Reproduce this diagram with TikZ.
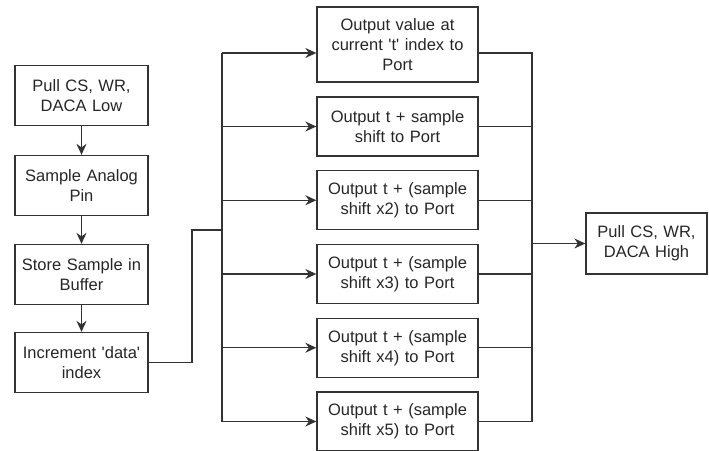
\documentclass[tikz,border=0pt]{standalone}
\usepackage{fontspec}
\setmainfont{Liberation Sans}
\usetikzlibrary{arrows.meta}
\begin{document}
\begin{tikzpicture}[x=1pt,y=-1pt,>={Stealth[length=11pt,width=10pt]},
  box/.style={draw=black!80,line width=1.3pt,align=center,inner sep=1pt,text=black!85,
    font=\fontsize{16.5}{20}\selectfont},
  lbox/.style={box,minimum height=60pt,text width=131pt},
  mbox/.style={box,minimum height=59pt,text width=159pt},
  link/.style={draw=black!80,line width=1.3pt}]
  \useasboundingbox (0,0) rectangle (709,450);
  % left column
  \node[lbox] (pull)  at (81.5,95.5)  {Pull CS, WR,\\DACA Low};
  \node[lbox] (samp)  at (81.5,185.5) {Sample Analog\\Pin};
  \node[lbox] (store) at (81.5,274.5) {Store Sample in\\Buffer};
  \node[lbox] (incr)  at (81.5,362.5) {Increment \textquotesingle data\textquotesingle\\index};
  \draw[link,->] (pull) -- (samp);
  \draw[link,->] (samp) -- (store);
  \draw[link,->] (store) -- (incr);
  % output column
  \node[mbox,minimum height=75pt] (out0) at (397.5,44.5)
    {Output value at\\current \textquotesingle t\textquotesingle{} index to\\Port};
  \node[mbox] (out1) at (397.5,126.5) {Output t + sample\\shift to Port};
  \node[mbox] (out2) at (397.5,200.25) {Output t + (sample\\shift x2) to Port};
  \node[mbox] (out3) at (397.5,274) {Output t + (sample\\shift x3) to Port};
  \node[mbox] (out4) at (397.5,347.75) {Output t + (sample\\shift x4) to Port};
  \node[mbox] (out5) at (397.5,421.5) {Output t + (sample\\shift x5) to Port};
  \node[box,minimum height=61pt,text width=119pt] (high) at (646.5,243.5) {Pull CS, WR,\\DACA High};
  % fan out
  \coordinate (jog) at (192,230);
  \coordinate (top) at (222,53);
  \coordinate (bot) at (222,421.5);
  \draw[link] (incr) -| (jog) -- (jog -| top);
  \draw[link] (top) -- (bot);
  \draw[link,->] (top) -- (top -| out0.west);
  \foreach \o in {out1,out2,out3,out4} \draw[link,->] (top |- \o) -- (\o);
  \draw[link,->] (bot) -- (out5);
  % fan in
  \coordinate (rtop) at (532,53);
  \coordinate (rbot) at (532,421.5);
  \draw[link] (rtop -| out0.east) -- (rtop) -- (rbot) -- (out5);
  \foreach \o in {out1,out2,out3,out4} \draw[link] (\o) -- (rtop |- \o);
  \draw[link,->] (rtop |- high) -- (high);
\end{tikzpicture}
\end{document}
